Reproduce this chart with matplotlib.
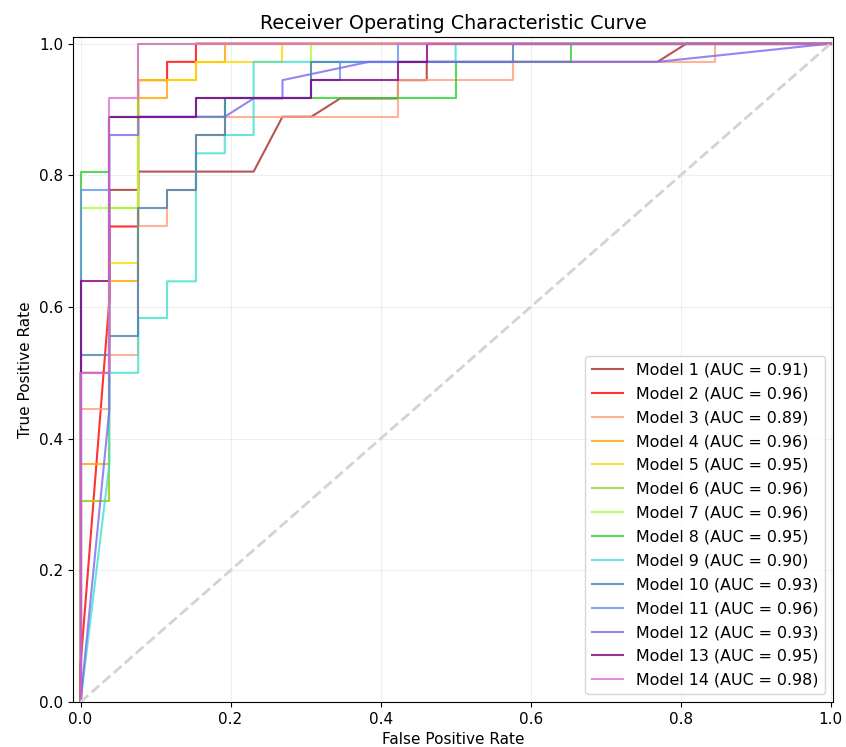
import numpy as np
import matplotlib
matplotlib.use("Agg")
import matplotlib.pyplot as plt

# test set: 26 negatives, 36 positives -> curves given as step counts
N_NEG = 26
N_POS = 36

MODELS = [f"Model {i}" for i in range(1, 15)]
AUC = [0.91, 0.96, 0.89, 0.96, 0.95, 0.96, 0.96, 0.95, 0.90, 0.93, 0.96, 0.93, 0.95, 0.98]
COLORS = ["brown", "red", "lightsalmon", "orange", "gold", "yellowgreen", "greenyellow",
          "limegreen", "turquoise", "steelblue", "cornflowerblue", "mediumslateblue",
          "purple", "orchid"]

# false positives (count) at each curve point
FP = [
    [0, 0, 1, 1, 2, 2, 6, 7, 8, 9, 11, 11, 12, 12, 20, 21, 26],
    [0, 0, 1, 1, 2, 2, 3, 3, 4, 4, 26],
    [0, 0, 1, 1, 2, 2, 3, 3, 4, 4, 5, 5, 11, 11, 15, 15, 22, 22, 26],
    [0, 0, 1, 1, 2, 2, 3, 3, 4, 4, 5, 5, 26],
    [0, 0, 1, 1, 2, 2, 4, 4, 7, 7, 26],
    [0, 0, 1, 1, 2, 2, 26],
    [0, 0, 2, 2, 4, 4, 8, 8, 26],
    [0, 0, 1, 1, 5, 5, 13, 13, 17, 17, 26],
    [0, 1, 1, 2, 2, 3, 3, 4, 4, 5, 5, 6, 6, 13, 13, 26],
    [0, 0, 1, 1, 2, 2, 3, 3, 4, 4, 5, 5, 8, 8, 15, 15, 26],
    [0, 0, 1, 1, 4, 4, 8, 8, 9, 9, 11, 11, 26],
    [0, 1, 1, 2, 2, 5, 6, 7, 7, 10, 20, 26],
    [0, 0, 1, 1, 4, 4, 8, 8, 11, 11, 12, 12, 26],
    [0, 0, 1, 1, 2, 2, 26],
]

# true positives (count) at each curve point
TP = [
    [0, 18, 18, 28, 28, 29, 29, 32, 32, 33, 33, 34, 34, 35, 35, 36, 36],
    [0, 2, 22, 26, 26, 34, 34, 35, 35, 36, 36],
    [0, 16, 16, 19, 19, 26, 26, 28, 28, 31, 31, 32, 32, 34, 34, 35, 35, 36, 36],
    [0, 13, 13, 23, 23, 33, 33, 34, 34, 35, 35, 36, 36],
    [0, 11, 11, 24, 24, 34, 34, 35, 35, 36, 36],
    [0, 11, 11, 27, 27, 36, 36],
    [0, 27, 27, 32, 32, 33, 33, 36, 36],
    [0, 29, 29, 32, 32, 33, 33, 35, 35, 36, 36],
    [0, 13, 18, 18, 21, 21, 23, 23, 30, 30, 31, 31, 35, 35, 36, 36],
    [0, 19, 19, 20, 20, 27, 27, 28, 28, 31, 31, 33, 33, 35, 35, 36, 36],
    [0, 28, 28, 32, 32, 33, 33, 34, 34, 35, 35, 36, 36],
    [0, 16, 31, 31, 32, 32, 33, 33, 34, 35, 35, 36],
    [0, 23, 23, 32, 32, 33, 33, 34, 34, 35, 35, 36, 36],
    [0, 18, 18, 33, 33, 36, 36],
]

fig = plt.figure(figsize=(8.46, 7.47), dpi=100)
ax = fig.add_axes([0.0863, 0.0602, 0.8983, 0.8903])

for name, auc, color, fp, tp in zip(MODELS, AUC, COLORS, FP, TP):
    fpr = np.array(fp) / N_NEG
    tpr = np.array(tp) / N_POS
    ax.plot(fpr, tpr, color=color, lw=1.5, alpha=0.8, label=f"{name} (AUC = {auc:.2f})")

# linha de referencia (classificador aleatorio)
ax.plot([0, 1], [0, 1], linestyle="--", color="lightgray", lw=2)

ax.set_xlim(-0.01, 1.003)
ax.set_ylim(0.0, 1.01)
ax.tick_params(labelsize=11)
ax.set_xlabel("False Positive Rate", fontsize=11)
ax.set_ylabel("True Positive Rate", fontsize=11)
ax.set_title("Receiver Operating Characteristic Curve", fontsize=13.8)
ax.grid(True, alpha=0.2)
ax.legend(loc="lower right", fontsize=11.4, labelspacing=0.56)

fig.savefig("out.png", dpi=100)
